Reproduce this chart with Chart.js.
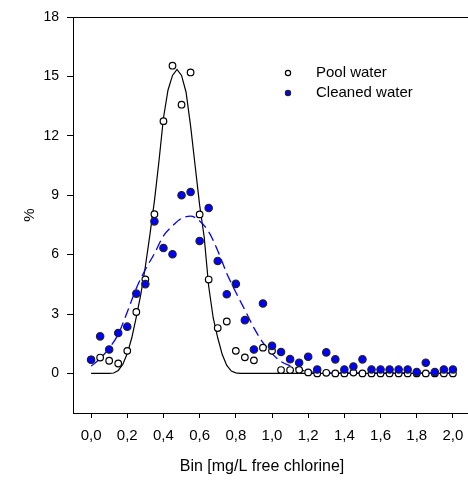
<!DOCTYPE html>
<html>
<head>
<meta charset="utf-8">
<script src="https://cdn.jsdelivr.net/npm/chart.js@4"></script>
<style>
  html, body { margin: 0; padding: 0; overflow: hidden; background: #fff; }
  canvas { display: block; }
</style>
</head>
<body>
<canvas id="chart" width="480" height="480"></canvas>
<script>
// bins [mg/L free chlorine]
const bins = [0.00, 0.05, 0.10, 0.15, 0.20, 0.25, 0.30, 0.35, 0.40, 0.45,
              0.50, 0.55, 0.60, 0.65, 0.70, 0.75, 0.80, 0.85, 0.90, 0.95,
              1.00, 1.05, 1.10, 1.15, 1.20, 1.25, 1.30, 1.35, 1.40, 1.45,
              1.50, 1.55, 1.60, 1.65, 1.70, 1.75, 1.80, 1.85, 1.90, 1.95, 2.00];

// % per bin
const poolWater = [0.70, 0.80, 0.64, 0.50, 1.14, 3.10, 4.75, 8.04, 12.74, 15.54,
                   13.57, 15.20, 8.03, 4.74, 2.29, 2.62, 1.14, 0.81, 0.66, 1.30,
                   1.14, 0.17, 0.17, 0.18, 0.05, 0.00, 0.03, 0.00, 0.00, 0.04,
                   0.00, 0.00, 0.00, 0.00, 0.00, 0.00, 0.00, 0.00, 0.00, 0.00, 0.00];
const cleanedWater = [0.69, 1.87, 1.21, 2.04, 2.36, 4.03, 4.51, 7.68, 6.33, 6.02,
                      9.00, 9.16, 6.69, 8.35, 5.68, 4.00, 4.52, 2.69, 1.21, 3.53,
                      1.39, 1.08, 0.72, 0.54, 0.84, 0.20, 1.06, 0.71, 0.20, 0.35,
                      0.71, 0.20, 0.20, 0.20, 0.20, 0.20, 0.07, 0.54, 0.07, 0.20, 0.20];

// fitted curves
const poolFitX = [0, 0.05, 0.1, 0.125, 0.15, 0.175, 0.2, 0.225, 0.25, 0.275, 0.3, 0.325,
                  0.35, 0.375, 0.4, 0.425, 0.45, 0.475, 0.5, 0.525, 0.55, 0.575, 0.6,
                  0.625, 0.65, 0.675, 0.7, 0.725, 0.75, 0.775, 0.8, 0.825, 0.85, 2.0];
const poolFitY = [0, 0, 0, 0.02, 0.15, 0.45, 1.0, 1.8, 2.85, 4.0, 5.4, 7.0,
                  8.7, 10.7, 12.9, 14.3, 15.05, 15.35, 15.05, 14.2, 12.5, 10.5, 8.5,
                  6.9, 4.4, 2.8, 1.8, 0.95, 0.4, 0.12, 0.03, 0, 0, 0];
const cleanedFitX = [0, 0.05, 0.1, 0.15, 0.2, 0.25, 0.3, 0.35, 0.4, 0.45, 0.5, 0.55, 0.6,
                     0.65, 0.7, 0.75, 0.8, 0.85, 0.9, 0.95, 1.0, 1.05, 1.1, 1.15, 1.2,
                     1.25, 1.3, 2.0];
const cleanedFitY = [0.37, 0.75, 1.28, 1.98, 3.1, 4.3, 5.25, 6.05, 6.95, 7.45, 7.83, 7.94, 7.7,
                     7.15, 6.2, 5.05, 4.1, 3.2, 2.3, 1.55, 1.0, 0.6, 0.38, 0.2, 0.1,
                     0.05, 0.03, 0.02];

const xTicks = [0.0, 0.2, 0.4, 0.6, 0.8, 1.0, 1.2, 1.4, 1.6, 1.8, 2.0];
const yTicks = [0, 3, 6, 9, 12, 15, 18];

const FONT = "'Liberation Sans', Arial, sans-serif";
const pts = (xs, ys) => xs.map((x, i) => ({ x: x, y: ys[i] }));

// top frame line, axis titles and legend
const extras = {
  id: 'extras',
  afterDraw(chart) {
    const { ctx, chartArea } = chart;
    ctx.save();
    ctx.strokeStyle = '#000';
    ctx.lineWidth = 1;
    ctx.beginPath();
    ctx.moveTo(chartArea.left, chartArea.top + 0.5);
    ctx.lineTo(chartArea.right, chartArea.top + 0.5);
    ctx.stroke();

    ctx.fillStyle = '#000';
    ctx.textAlign = 'center';
    ctx.textBaseline = 'middle';
    ctx.font = '16px ' + FONT;
    ctx.fillText('Bin [mg/L free chlorine]', 262, 467);
    ctx.save();
    ctx.translate(30, 215);
    ctx.rotate(-Math.PI / 2);
    ctx.font = '15px ' + FONT;
    ctx.fillText('%', 0, 0);
    ctx.restore();

    const items = [
      { text: 'Pool water', fill: '#fff', stroke: '#000', y: 73 },
      { text: 'Cleaned water', fill: '#0000ff', stroke: '#222', y: 93 }
    ];
    ctx.font = '15px ' + FONT;
    ctx.textAlign = 'left';
    items.forEach(it => {
      ctx.beginPath();
      ctx.arc(288, it.y, 2.6, 0, Math.PI * 2);
      ctx.fillStyle = it.fill;
      ctx.fill();
      ctx.lineWidth = 1.2;
      ctx.strokeStyle = it.stroke;
      ctx.stroke();
      ctx.fillStyle = '#000';
      ctx.fillText(it.text, 316, it.y);
    });
    ctx.restore();
  }
};

new Chart(document.getElementById('chart'), {
  type: 'scatter',
  data: {
    datasets: [
      {
        label: 'Cleaned water',
        data: pts(bins, cleanedWater),
        backgroundColor: '#0000ff',
        borderColor: '#222',
        borderWidth: 1.2,
        pointRadius: 3.7,
        order: 1
      },
      {
        label: 'Pool water',
        data: pts(bins, poolWater),
        backgroundColor: '#fff',
        borderColor: '#000',
        borderWidth: 1.2,
        pointRadius: 3.3,
        order: 2
      },
      {
        label: 'Cleaned fit',
        data: pts(cleanedFitX, cleanedFitY),
        showLine: true,
        borderColor: '#0000ff',
        borderWidth: 1.3,
        borderDash: [10, 5],
        pointRadius: 0,
        cubicInterpolationMode: 'monotone',
        order: 3
      },
      {
        label: 'Pool fit',
        data: pts(poolFitX, poolFitY),
        showLine: true,
        borderColor: '#000',
        borderWidth: 1.2,
        pointRadius: 0,
        order: 4
      }
    ]
  },
  options: {
    responsive: false,
    animation: false,
    layout: { padding: { top: 17, right: 9, left: 0, bottom: 0 } },
    plugins: { legend: { display: false }, tooltip: { enabled: false } },
    scales: {
      x: {
        type: 'linear',
        min: -0.1,
        max: 2.1,
        afterBuildTicks: axis => { axis.ticks = xTicks.map(v => ({ value: v })); },
        afterFit: axis => { axis.height = 67; },
        grid: { drawOnChartArea: false, tickLength: 5, color: '#000' },
        border: { color: '#000', width: 1 },
        ticks: {
          color: '#000',
          font: { family: FONT, size: 15 },
          padding: 9,
          maxRotation: 0,
          callback: v => v.toFixed(1).replace('.', ',')
        }
      },
      y: {
        min: -2,
        max: 18,
        afterBuildTicks: axis => { axis.ticks = yTicks.map(v => ({ value: v })); },
        afterFit: axis => { axis.width = 73; },
        grid: { drawOnChartArea: false, tickLength: 6, color: '#000' },
        border: { color: '#000', width: 1 },
        ticks: {
          color: '#000',
          font: { family: FONT, size: 14 },
          padding: 8
        }
      }
    }
  },
  plugins: [extras]
});
</script>
</body>
</html>
